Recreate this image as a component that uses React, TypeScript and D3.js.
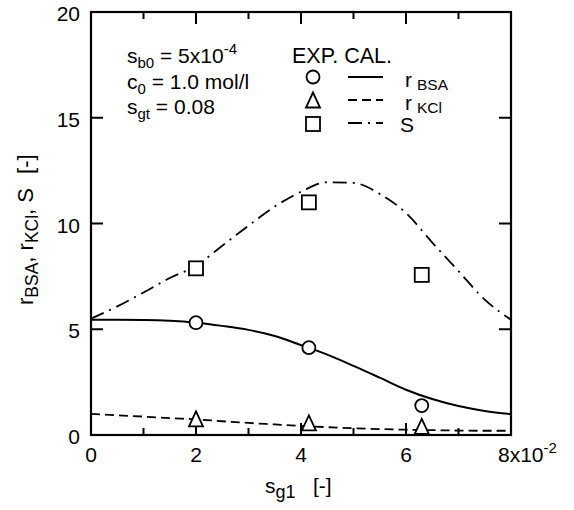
import React from 'react';
import * as d3 from 'd3';

// calculated curves (x in units of 10^-2)
const gridX = [0, 0.5, 1, 1.5, 2, 2.5, 3, 3.5, 4, 4.5, 5, 5.5, 6, 6.5, 7, 7.5, 8];
const calBSA = [5.45, 5.45, 5.44, 5.4, 5.31, 5.16, 4.97, 4.68, 4.25, 3.8, 3.27, 2.71, 2.14, 1.7, 1.37, 1.14, 0.99];
const calKCl = [1.0, 0.93, 0.87, 0.8, 0.74, 0.65, 0.57, 0.5, 0.43, 0.37, 0.32, 0.28, 0.25, 0.23, 0.21, 0.2, 0.2];
const calS = [5.5, 6.08, 6.74, 7.42, 8.0, 8.95, 9.9, 10.8, 11.5, 11.95, 11.92, 11.4, 10.5, 9.1, 7.75, 6.4, 5.45];

// experimental points
const expX = [2.0, 4.15, 6.3];
const expBSA = [5.31, 4.13, 1.39];
const expKCl = [0.76, 0.57, 0.41];
const expS = [7.88, 11.0, 7.57];

const xMajorTicks = [0, 2, 4, 6, 8];
const xMinorTicks = [1, 3, 5, 7];
const yTicks = [0, 5, 10, 15, 20];
const xTickLabels = ['0', '2', '4', '6'];
const yTickLabels = ['0', '5', '10', '15', '20'];

const FONT = '"Liberation Sans", Arial, Helvetica, sans-serif';

export default function App() {
  const W = 574, H = 510;
  const left = 91, right = 511, top = 12, bottom = 435;
  const x = d3.scaleLinear().domain([0, 8]).range([left, right]);
  const y = d3.scaleLinear().domain([0, 20]).range([bottom, top]);

  const mkLine = (vals: number[]) =>
    d3.line<number>()
      .x((_, i) => x(gridX[i]))
      .y((d) => y(d))
      .curve(d3.curveMonotoneX)(vals) || '';

  const triPath = 'M0,-7.5L7,7.5L-7,7.5Z';
  const mk = { fill: '#fff', stroke: '#000', strokeWidth: 1.8 };

  return (
    <svg width={W} height={H} style={{ position: 'absolute', left: 0, top: 0, background: '#fff' }}
      fontFamily={FONT}>
      <rect x={0} y={0} width={W} height={H} fill="#fff" />
      {/* ticks */}
      {xMajorTicks.slice(1, -1).map((t) => (
        <g key={'xm' + t}>
          <line x1={x(t)} x2={x(t)} y1={bottom} y2={bottom - 12} stroke="#000" strokeWidth={2} />
          <line x1={x(t)} x2={x(t)} y1={top} y2={top + 12} stroke="#000" strokeWidth={2} />
        </g>
      ))}
      {xMinorTicks.map((t) => (
        <g key={'xn' + t}>
          <line x1={x(t)} x2={x(t)} y1={bottom} y2={bottom - 7} stroke="#000" strokeWidth={2} />
          <line x1={x(t)} x2={x(t)} y1={top} y2={top + 7} stroke="#000" strokeWidth={2} />
        </g>
      ))}
      {yTicks.slice(1, -1).map((t) => (
        <g key={'ym' + t}>
          <line x1={left} x2={left + 12} y1={y(t)} y2={y(t)} stroke="#000" strokeWidth={2} />
          <line x1={right} x2={right - 12} y1={y(t)} y2={y(t)} stroke="#000" strokeWidth={2} />
        </g>
      ))}
      {/* curves */}
      <path d={mkLine(calS)} fill="none" stroke="#000" strokeWidth={1.8} strokeDasharray="14,6,2,6" />
      <path d={mkLine(calBSA)} fill="none" stroke="#000" strokeWidth={2} />
      <path d={mkLine(calKCl)} fill="none" stroke="#000" strokeWidth={1.8} strokeDasharray="9,5" />
      {/* frame */}
      <rect x={left} y={top} width={right - left} height={bottom - top} fill="none" stroke="#000" strokeWidth={2.2} />
      {/* markers */}
      {expX.map((v, i) => (
        <rect key={'s' + i} x={x(v) - 7} y={y(expS[i]) - 7} width={14} height={14} {...mk} />
      ))}
      {expX.map((v, i) => (
        <circle key={'c' + i} cx={x(v)} cy={y(expBSA[i])} r={6.5} {...mk} />
      ))}
      {expX.map((v, i) => (
        <path key={'t' + i} d={triPath} transform={`translate(${x(v)},${y(expKCl[i])})`} {...mk} />
      ))}
      {/* x tick labels */}
      {xTickLabels.map((l, i) => (
        <text key={'xl' + l} x={x(xMajorTicks[i])} y={462} fontSize={21} textAnchor="middle">{l}</text>
      ))}
      <text x={498} y={462} fontSize={21}>8x10<tspan fontSize={15} dy={-9}>-2</tspan></text>
      {/* y tick labels */}
      {yTicks.map((t, i) => (
        <text key={'yl' + t} x={80} y={y(t) + 9} fontSize={21} textAnchor="end">{yTickLabels[i]}</text>
      ))}
      {/* axis titles */}
      <text x={265} y={493} fontSize={21}>s<tspan fontSize={18} dy={5}>g1</tspan></text>
      <text x={313} y={493} fontSize={21}>[-]</text>
      <g transform="rotate(-90)">
        <text x={-305} y={33} fontSize={22}>
          r<tspan fontSize={17.5} dy={5}>BSA</tspan><tspan dy={-5}>, r</tspan><tspan fontSize={17.5} dy={5}>KCl</tspan><tspan dy={-5}>, S</tspan><tspan dx={14}>[-]</tspan>
        </text>
      </g>
      {/* annotation */}
      <text x={127} y={63} fontSize={21}>s<tspan fontSize={15} dy={5}>b0</tspan><tspan dy={-5}> = 5x10</tspan><tspan fontSize={15} dy={-9}>-4</tspan></text>
      <text x={127} y={89} fontSize={21}>c<tspan fontSize={15} dy={5}>0</tspan><tspan dy={-5}> = 1.0 mol/l</tspan></text>
      <text x={127} y={114} fontSize={21}>s<tspan fontSize={15} dy={5}>gt</tspan><tspan dy={-5}> = 0.08</tspan></text>
      {/* legend */}
      <text x={292} y={63} fontSize={21.5}>EXP. CAL.</text>
      <circle cx={313} cy={77} r={6.5} {...mk} />
      <line x1={348} x2={383} y1={77} y2={77} stroke="#000" strokeWidth={2} />
      <text x={405} y={87} fontSize={21}>r</text>
      <text x={417} y={90} fontSize={15.5}>BSA</text>
      <path d={triPath} transform="translate(313,100)" {...mk} />
      <line x1={348} x2={383} y1={100} y2={100} stroke="#000" strokeWidth={1.8} strokeDasharray="9,5" />
      <text x={405} y={110} fontSize={21}>r</text>
      <text x={417} y={113} fontSize={15.5}>KCl</text>
      <rect x={306} y={117} width={14} height={14} {...mk} />
      <line x1={348} x2={383} y1={123} y2={123} stroke="#000" strokeWidth={1.8} strokeDasharray="14,6,2,6" />
      <text x={400} y={132} fontSize={21}>S</text>
    </svg>
  );
}
